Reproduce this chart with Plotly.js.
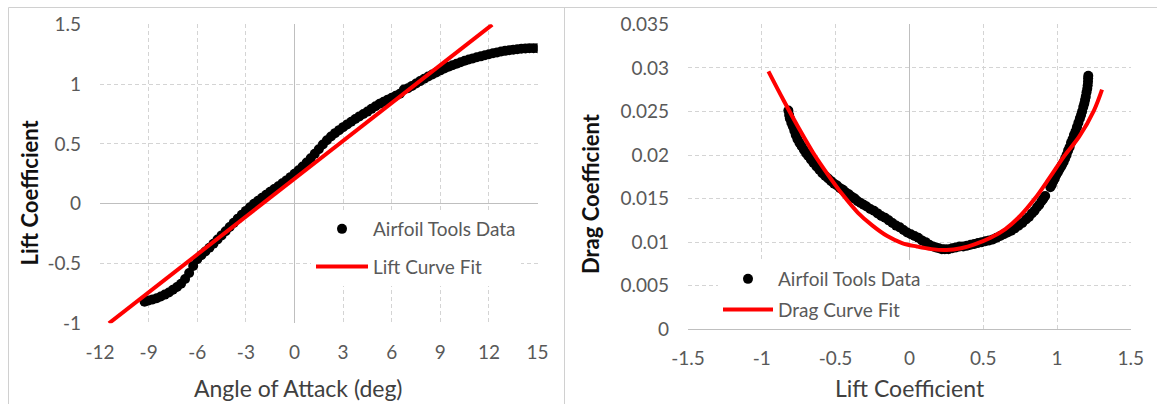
<!DOCTYPE html>
<html>
<head>
<meta charset="utf-8">
<script src="https://cdn.plot.ly/plotly-3.0.1.min.js"></script>
<style>
  html, body { margin: 0; padding: 0; background: #ffffff; }
  #chart { width: 1157px; height: 404px; }
</style>
</head>
<body>
<div id="chart"></div>
<script>
// ---- Left chart: lift curve (Airfoil Tools data) ----
const aoa = [-9.25, -9.0, -8.75, -8.5, -8.25, -8.0, -7.75, -7.5, -7.25, -7.0, -6.75, -6.5, -6.25, -6.0, -5.75, -5.5, -5.25, -5.0, -4.75, -4.5,
             -4.25, -4.0, -3.75, -3.5, -3.25, -3.0, -2.75, -2.5, -2.25, -2.0, -1.75, -1.5, -1.25, -1.0, -0.75, -0.5, -0.25, 0.0, 0.25, 0.5,
             0.75, 1.0, 1.25, 1.5, 1.75, 2.0, 2.25, 2.5, 2.75, 3.0, 3.25, 3.5, 3.75, 4.0, 4.25, 4.5, 4.75, 5.0, 5.25, 5.5,
             5.75, 6.0, 6.25, 6.5, 6.75, 7.0, 7.25, 7.5, 7.75, 8.0, 8.25, 8.5, 8.75, 9.0, 9.25, 9.5, 9.75, 10.0, 10.25, 10.5,
             10.75, 11.0, 11.25, 11.5, 11.75, 12.0, 12.25, 12.5, 12.75, 13.0, 13.25, 13.5, 13.75, 14.0, 14.25, 14.5, 14.75, 15.0];
const liftCl = [-0.82, -0.81, -0.80, -0.79, -0.776, -0.76, -0.742, -0.72, -0.697, -0.67, -0.63, -0.58, -0.52, -0.465, -0.43, -0.40, -0.368, -0.335, -0.30, -0.265,
                -0.23, -0.195, -0.16, -0.125, -0.092, -0.06, -0.03, 0.0, 0.025, 0.05, 0.075, 0.10, 0.122, 0.145, 0.17, 0.195, 0.222, 0.25, 0.28, 0.31,
                0.345, 0.38, 0.418, 0.455, 0.495, 0.53, 0.562, 0.59, 0.615, 0.64, 0.663, 0.685, 0.708, 0.73, 0.75, 0.77, 0.793, 0.815, 0.835, 0.853,
                0.87, 0.885, 0.903, 0.92, 0.955, 0.965, 0.985, 1.005, 1.025, 1.045, 1.063, 1.08, 1.098, 1.115, 1.13, 1.145, 1.158, 1.17, 1.183, 1.195,
                1.205, 1.215, 1.224, 1.232, 1.241, 1.25, 1.258, 1.265, 1.272, 1.278, 1.283, 1.288, 1.292, 1.295, 1.298, 1.30, 1.30, 1.30];
// Lift curve fit (straight line end points as read)
const fitAoa = [-11.45, 12.2];
const fitCl = [-1.0, 1.497];

// ---- Right chart: drag polar ----
const polarCl = [-0.82, -0.815, -0.81, -0.80, -0.79, -0.78, -0.77, -0.758, -0.745, -0.73, -0.715, -0.70, -0.685, -0.668, -0.65, -0.63, -0.61, -0.59, -0.57, -0.55,
                 -0.53, -0.51, -0.49, -0.47, -0.45, -0.43, -0.41, -0.39, -0.37, -0.35, -0.33, -0.31, -0.29, -0.265, -0.24, -0.215, -0.19, -0.165, -0.14, -0.115,
                 -0.09, -0.065, -0.04, -0.015, 0.01, 0.035, 0.06, 0.085, 0.11, 0.135, 0.16, 0.18, 0.20, 0.22, 0.24, 0.265, 0.29, 0.315, 0.34, 0.365,
                 0.39, 0.415, 0.44, 0.465, 0.49, 0.515, 0.54, 0.565, 0.59, 0.615, 0.64, 0.665, 0.69, 0.715, 0.74, 0.765, 0.79, 0.81, 0.83, 0.848,
                 0.865, 0.88, 0.895, 0.908, 0.92, 0.955, 0.965, 0.975, 0.985, 0.995, 1.005, 1.015, 1.025, 1.035, 1.045, 1.055, 1.065, 1.075, 1.085, 1.095,
                 1.105, 1.115, 1.125, 1.135, 1.145, 1.155, 1.163, 1.17, 1.178, 1.185, 1.19, 1.195, 1.20, 1.205, 1.208, 1.21, 1.211, 1.212];
const polarCd = [0.0251, 0.0246, 0.0242, 0.0237, 0.0233, 0.0228, 0.0223, 0.0218, 0.0214, 0.0210, 0.0206, 0.0202, 0.0199, 0.0195, 0.0191, 0.0187, 0.0183, 0.0179, 0.0176, 0.0173,
                 0.0170, 0.0167, 0.0165, 0.0162, 0.0160, 0.0157, 0.0155, 0.0152, 0.0150, 0.0147, 0.0145, 0.0143, 0.0141, 0.0138, 0.0136, 0.0133, 0.0130, 0.0128, 0.0125, 0.0122,
                 0.0119, 0.0117, 0.0114, 0.0111, 0.0109, 0.0107, 0.0105, 0.0102, 0.0100, 0.0097, 0.0095, 0.0094, 0.0093, 0.0092, 0.0092, 0.0092, 0.0093, 0.0094, 0.0095, 0.0095,
                 0.0096, 0.0097, 0.0098, 0.0099, 0.0100, 0.0101, 0.0102, 0.0103, 0.0105, 0.0107, 0.0109, 0.0111, 0.0113, 0.0116, 0.0119, 0.0122, 0.0126, 0.0129, 0.0133, 0.0136,
                 0.0140, 0.0143, 0.0147, 0.0150, 0.0153, 0.0163, 0.0166, 0.0170, 0.0173, 0.0177, 0.0180, 0.0183, 0.0186, 0.0189, 0.0192, 0.0196, 0.0200, 0.0205, 0.0209, 0.0214,
                 0.0218, 0.0223, 0.0227, 0.0232, 0.0237, 0.0242, 0.0246, 0.0250, 0.0255, 0.0259, 0.0263, 0.0267, 0.0272, 0.0276, 0.0280, 0.0284, 0.0288, 0.0291];
// Drag curve fit
const dragFitCl = [-0.955, -0.85, -0.75, -0.65, -0.55, -0.45, -0.35, -0.25, -0.15, -0.05, 0.05, 0.15, 0.25, 0.35, 0.45, 0.55, 0.65, 0.75, 0.85, 0.95, 1.05, 1.15, 1.25, 1.305];
const dragFitCd = [0.0296, 0.0262, 0.0231, 0.0202, 0.0177, 0.0154, 0.0134, 0.0119, 0.0107, 0.0099, 0.0095, 0.0092, 0.0091, 0.0093, 0.0098, 0.0105, 0.0115, 0.0130, 0.0150, 0.0174, 0.0199, 0.0221, 0.0251, 0.0275];

// ---- Tick labels ----
const leftXTicks = [-12, -9, -6, -3, 0, 3, 6, 9, 12, 15];
const leftXLabels = ['-12', '-9', '-6', '-3', '0', '3', '6', '9', '12', '15'];
const leftYTicks = [-1, -0.5, 0, 0.5, 1, 1.5];
const leftYLabels = ['-1', '-0.5', '0', '0.5', '1', '1.5'];
const rightXTicks = [-1.5, -1, -0.5, 0, 0.5, 1, 1.5];
const rightXLabels = ['-1.5', '-1', '-0.5', '0', '0.5', '1', '1.5'];
const rightYTicks = [0, 0.005, 0.01, 0.015, 0.02, 0.025, 0.03, 0.035];
const rightYLabels = ['0', '0.005', '0.01', '0.015', '0.02', '0.025', '0.03', '0.035'];

const W = 1157, H = 404;
const px = v => v / W;
const py = v => 1 - v / H;

const FONT = 'Lato, "Open Sans", sans-serif';
const GRID = '#d4d4d4';
const ZERO = '#bfbfbf';

const traces = [
  { type: 'scatter', mode: 'markers', x: aoa, y: liftCl, name: 'Airfoil Tools Data',
    marker: { color: '#000000', size: 10 }, xaxis: 'x', yaxis: 'y', legend: 'legend', legendgroup: 'a' },
  { type: 'scatter', mode: 'lines', x: fitAoa, y: fitCl, name: 'Lift Curve Fit',
    line: { color: '#ff0000', width: 4 }, xaxis: 'x', yaxis: 'y', legend: 'legend', legendgroup: 'b' },
  { type: 'scatter', mode: 'markers', x: polarCl, y: polarCd, name: 'Airfoil Tools Data',
    marker: { color: '#000000', size: 10 }, xaxis: 'x2', yaxis: 'y2', legend: 'legend2', legendgroup: 'c' },
  { type: 'scatter', mode: 'lines', x: dragFitCl, y: dragFitCd, name: 'Drag Curve Fit',
    line: { color: '#ff0000', width: 4, shape: 'spline', smoothing: 1 }, xaxis: 'x2', yaxis: 'y2', legend: 'legend2', legendgroup: 'd' }
];

function axisBase(extra) {
  return Object.assign({
    showgrid: true, gridcolor: GRID, gridwidth: 1, griddash: '4px,3px',
    zeroline: true, zerolinecolor: ZERO, zerolinewidth: 1,
    showline: false, ticks: '', tickmode: 'array',
    tickfont: { family: FONT, size: 19, color: '#595959' },
    fixedrange: true, automargin: false
  }, extra);
}

const layout = {
  width: W, height: H,
  margin: { l: 0, r: 0, t: 0, b: 0 },
  paper_bgcolor: '#ffffff', plot_bgcolor: '#ffffff',
  font: { family: FONT, color: '#595959' },
  showlegend: true,
  xaxis: axisBase({
    domain: [px(100), px(537.6)], range: [-12, 15], anchor: 'y',
    tickvals: leftXTicks, ticktext: leftXLabels, ticklabelstandoff: 16
  }),
  yaxis: axisBase({
    domain: [py(323.3), py(24.3)], range: [-1, 1.5], anchor: 'x',
    tickvals: leftYTicks, ticktext: leftYLabels, ticklabelstandoff: 18
  }),
  xaxis2: axisBase({
    domain: [px(688), px(1130.8)], range: [-1.5, 1.5], anchor: 'y2',
    tickvals: rightXTicks, ticktext: rightXLabels, ticklabelstandoff: 16
  }),
  yaxis2: axisBase({
    domain: [py(329.3), py(24.3)], range: [0, 0.035], anchor: 'x2',
    tickvals: rightYTicks, ticktext: rightYLabels, ticklabelstandoff: 18
  }),
  annotations: [
    { text: 'Angle of Attack (deg)', xref: 'paper', yref: 'paper', x: px(298), y: py(388), xanchor: 'center', yanchor: 'middle',
      showarrow: false, font: { family: FONT, size: 23, color: '#404040' } },
    { text: 'Lift Coefficient', xref: 'paper', yref: 'paper', x: px(29), y: py(192.5), xanchor: 'center', yanchor: 'middle',
      textangle: -90, showarrow: false, font: { family: FONT, size: 22, color: '#111111', weight: 'bold' } },
    { text: 'Lift Coefficient', xref: 'paper', yref: 'paper', x: px(910), y: py(388), xanchor: 'center', yanchor: 'middle',
      showarrow: false, font: { family: FONT, size: 23, color: '#404040' } },
    { text: 'Drag Coefficient', xref: 'paper', yref: 'paper', x: px(590), y: py(194), xanchor: 'center', yanchor: 'middle',
      textangle: -90, showarrow: false, font: { family: FONT, size: 22, color: '#111111', weight: 'bold' } }
  ],
  legend: {
    x: px(311), xanchor: 'left', y: py(210), yanchor: 'top',
    bgcolor: '#ffffff', borderwidth: 0, itemwidth: 52,
    traceorder: 'grouped', tracegroupgap: 10, itemclick: false, itemdoubleclick: false,
    font: { family: FONT, size: 19, color: '#595959' }
  },
  legend2: {
    x: px(718), xanchor: 'left', y: py(260), yanchor: 'top',
    bgcolor: '#ffffff', borderwidth: 0, itemwidth: 50,
    traceorder: 'grouped', tracegroupgap: 3, itemclick: false, itemdoubleclick: false,
    font: { family: FONT, size: 19, color: '#595959' }
  },
  shapes: [
    { type: 'line', xref: 'paper', yref: 'paper', x0: px(8.5), x1: 1, y0: py(7.5), y1: py(7.5), line: { color: '#d0d0d0', width: 1 } },
    { type: 'line', xref: 'paper', yref: 'paper', x0: px(8.5), x1: px(8.5), y0: 0, y1: py(7.5), line: { color: '#d0d0d0', width: 1 } },
    { type: 'line', xref: 'paper', yref: 'paper', x0: px(564.5), x1: px(564.5), y0: 0, y1: py(7.5), line: { color: '#d0d0d0', width: 1 } }
  ]
};

Plotly.newPlot('chart', traces, layout, { staticPlot: true, displayModeBar: false });
</script>
</body>
</html>
